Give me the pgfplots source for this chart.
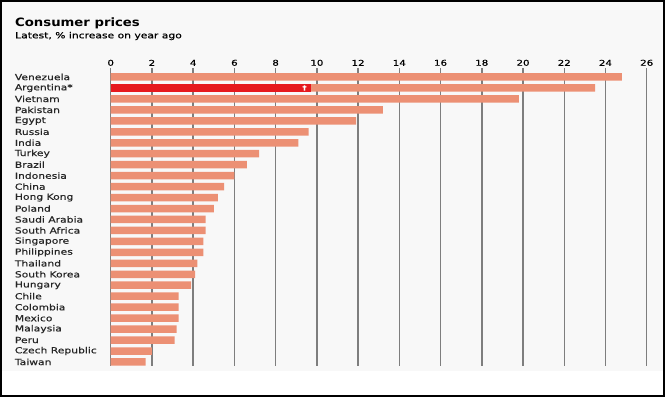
\documentclass[border=0pt]{standalone}
\usepackage{fontspec}
\setmainfont{DejaVu Sans}[FakeStretch=1.28, FakeBold=0.45]
\newfontfamily\titlefont{DejaVu Sans}[FakeStretch=1.15]
\usepackage{pgfplots}
\pgfplotsset{compat=1.18}
\usepackage{pgfplotstable}
\definecolor{salmon}{HTML}{EC9074}
\definecolor{ecored}{HTML}{E6191E}
\definecolor{panel}{HTML}{F8F8F8}
\definecolor{gridc}{HTML}{7E7E7E}

\pgfplotstableread[col sep=comma]{
idx,country,value
0,Venezuela,24.8
1,Argentina*,23.5
2,Vietnam,19.8
3,Pakistan,13.2
4,Egypt,11.9
5,Russia,9.6
6,India,9.1
7,Turkey,7.2
8,Brazil,6.6
9,Indonesia,6.0
10,China,5.5
11,Hong Kong,5.2
12,Poland,5.0
13,Saudi Arabia,4.6
14,South Africa,4.6
15,Singapore,4.5
16,Philippines,4.5
17,Thailand,4.2
18,South Korea,4.1
19,Hungary,3.9
20,Chile,3.3
21,Colombia,3.3
22,Mexico,3.3
23,Malaysia,3.2
24,Peru,3.1
25,Czech Republic,2.0
26,Taiwan,1.7
}\datatable

\pgfplotstableread[col sep=comma]{
idx,value
1,9.7
}\argred

\begin{document}
\begin{tikzpicture}[x=1bp,y=1bp]
\fill[white] (0,0) rectangle (665,-397);
\fill[panel] (2,-2) rectangle (663,-371);
\draw[black, line width=1.6bp] (0.8,-0.8) rectangle (664.2,-396.2);
\node[anchor=base west, inner sep=0pt, font=\titlefont\bfseries\fontsize{11.5bp}{13bp}\selectfont] at (15,-26.7) {Consumer prices};
\node[anchor=base west, inner sep=0pt, font=\fontsize{8.4bp}{10bp}\selectfont] at (15,-38.3) {Latest, \% increase on year ago};
\begin{axis}[
  at={(110.7bp,-366bp)}, anchor=south west,
  scale only axis, width=536bp, height=298bp,
  xmin=0, xmax=26, ymin=-0.82, ymax=26.37, y dir=reverse,
  axis line style={draw=none},
  tick style={draw=none},
  major tick length=0pt,
  xtick={2,4,...,26},
  extra x ticks={0},
  extra x tick style={grid style={color=black!75, line width=1.5bp}},
  xticklabel pos=upper,
  xmajorgrids,
  major grid style={color=gridc, line width=1.5bp},
  xticklabel style={font=\fontsize{8bp}{9bp}\selectfont, inner sep=0pt, yshift=2bp},
  /pgf/number format/assume math mode=true,
  ytick={0,...,26},
  yticklabels from table={\datatable}{country},
  yticklabel style={font=\fontsize{8.4bp}{10bp}\selectfont, text=black!85, anchor=west, inner sep=0pt, xshift=-96bp},
  xbar, bar width=7.5bp, bar shift=0pt,
  clip=false,
]
\addplot[fill=salmon, draw=none] table[x=value, y=idx] {\datatable};
\addplot[fill=ecored, draw=none] table[x=value, y=idx] {\argred};
\node[text=white, font=\bfseries\fontsize{6.5bp}{7bp}\selectfont, inner sep=0pt] at (axis cs:9.4,1) {\textdagger};
\end{axis}
\end{tikzpicture}
\end{document}
